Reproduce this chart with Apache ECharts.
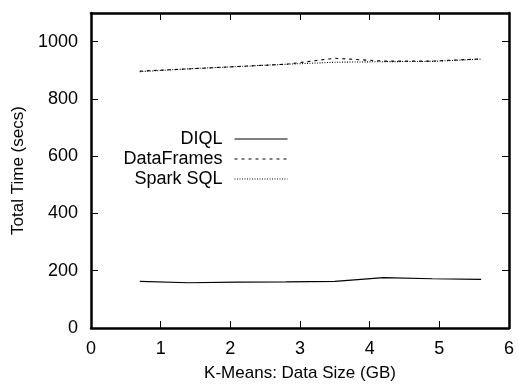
<!DOCTYPE html>
<html><head><meta charset="utf-8">
<script src="https://cdn.jsdelivr.net/npm/echarts@6/dist/echarts.min.js"></script>
<style>html,body{margin:0;padding:0;background:#fff}#c{width:518px;height:387px}</style>
</head><body><div id="c"></div>
<script>
const xValues = [0.7, 1.4, 2.1, 2.8, 3.5, 4.2, 4.9, 5.6];
const diql = [163, 158, 160, 161, 163, 176, 172, 170];
const dataFrames = [897, 905, 913, 921, 942, 932, 932, 940];
const sparkSql = [895, 905, 913, 921, 928, 930, 931, 939];
const seriesNames = ['DIQL', 'DataFrames', 'Spark SQL'];
const xTicks = [0, 1, 2, 3, 4, 5, 6];
const yTicks = [0, 200, 400, 600, 800, 1000];

const font = 'Liberation Sans, Arial, Helvetica, sans-serif';
const pair = (xs, ys) => xs.map((x, i) => [x, ys[i]]);
const chart = echarts.init(document.getElementById('c'), null, {renderer: 'canvas'});
const axisCommon = {
  axisLine: {show: true, onZero: false, lineStyle: {color: '#000', width: 2.5}},
  axisTick: {show: true, inside: true, length: 7, lineStyle: {color: '#000', width: 1}},
  splitLine: {show: false}
};
const legendCommon = {
  orient: 'vertical', right: 230, align: 'right', itemWidth: 53, itemHeight: 10, itemGap: 0,
  itemStyle: {opacity: 0},
  lineStyle: {width: 1},
  textStyle: {fontFamily: font, fontSize: 18, color: '#000', padding: [0, 7, 0, 0]},
  padding: 0, selectedMode: false
};
chart.setOption({
  animation: false,
  grid: {left: 91, right: 9, top: 13, bottom: 55, containLabel: false},
  xAxis: [
    Object.assign({type: 'value', min: 0, max: 6, interval: 1, position: 'bottom',
      name: 'K-Means: Data Size (GB)', nameLocation: 'middle', nameGap: 37,
      nameTextStyle: {fontFamily: font, fontSize: 17, color: '#000'},
      axisLabel: {fontFamily: font, fontSize: 18, color: '#000', margin: 12,
        formatter: v => xTicks.includes(v) ? String(v) : ''}}, axisCommon),
    Object.assign({type: 'value', min: 0, max: 6, interval: 1, position: 'top',
      axisLabel: {show: false}}, axisCommon)
  ],
  yAxis: [
    Object.assign({type: 'value', min: 0, max: 1100, interval: 200, position: 'left',
      name: 'Total Time (secs)', nameLocation: 'middle', nameGap: 62,
      nameTextStyle: {fontFamily: font, fontSize: 17, color: '#000'},
      axisLabel: {fontFamily: font, fontSize: 18, color: '#000', margin: 13,
        formatter: v => yTicks.includes(v) ? String(v) : ''}}, axisCommon),
    Object.assign({type: 'value', min: 0, max: 1100, interval: 200, position: 'right',
      axisLabel: {show: false}}, axisCommon)
  ],
  legend: [
    Object.assign({data: [seriesNames[0]], top: 130}, legendCommon),
    Object.assign({data: [seriesNames[1]], top: 150}, legendCommon),
    Object.assign({data: [seriesNames[2]], top: 170}, legendCommon)
  ],
  series: [
    {name: seriesNames[0], type: 'line', data: pair(xValues, diql), symbol: 'none',
      lineStyle: {color: '#000', width: 1.2, type: 'solid'}, itemStyle: {color: '#000'}},
    {name: seriesNames[1], type: 'line', data: pair(xValues, dataFrames), symbol: 'none',
      lineStyle: {color: '#000', width: 1.1, type: [3, 4]}, itemStyle: {color: '#000'}},
    {name: seriesNames[2], type: 'line', data: pair(xValues, sparkSql), symbol: 'none',
      lineStyle: {color: '#000', width: 1.1, type: [1, 1.5]}, itemStyle: {color: '#000'}}
  ]
});
</script></body></html>
